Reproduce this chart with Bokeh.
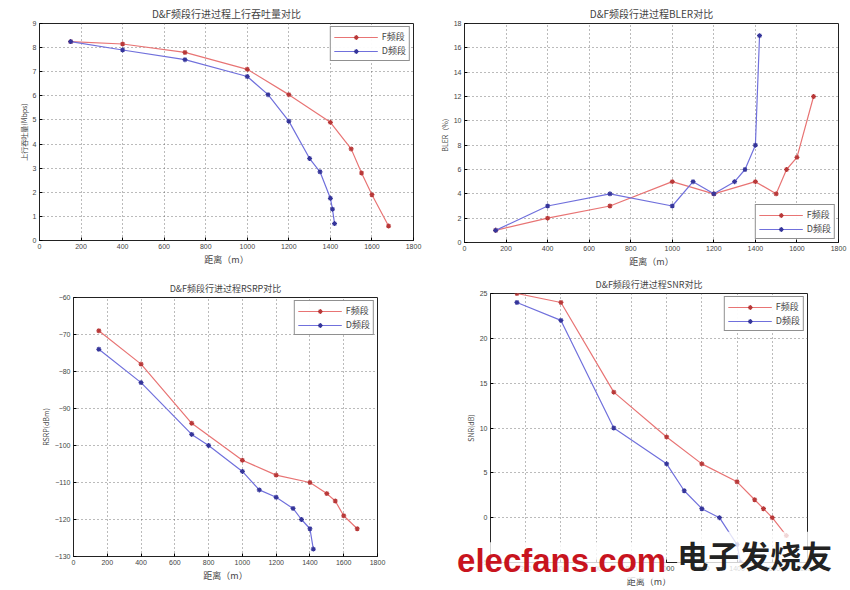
from bokeh.plotting import figure
from bokeh.layouts import column, row
from bokeh.models import Legend, LegendItem, FixedTicker
from bokeh.core.properties import value
from bokeh.embed import file_html
from bokeh.resources import INLINE

# ---------------- data ----------------
tp_f_x = [150, 400, 700, 1000, 1200, 1400, 1500, 1550, 1600, 1680]
tp_f_y = [8.25, 8.15, 7.8, 7.1, 6.05, 4.9, 3.8, 2.8, 1.9, 0.6]
tp_d_x = [150, 400, 700, 1000, 1100, 1200, 1300, 1350, 1400, 1410, 1420]
tp_d_y = [8.25, 7.9, 7.5, 6.8, 6.05, 4.95, 3.4, 2.85, 1.75, 1.3, 0.7]

bler_f_x = [150, 400, 700, 1000, 1200, 1400, 1500, 1550, 1600, 1680]
bler_f_y = [1, 2, 3, 5, 4, 5, 4, 6, 7, 12]
bler_d_x = [150, 400, 700, 1000, 1100, 1200, 1300, 1350, 1400, 1420]
bler_d_y = [1, 3, 4, 3, 5, 4, 5, 6, 8, 17]

rsrp_f_x = [150, 400, 700, 1000, 1200, 1400, 1500, 1550, 1600, 1680]
rsrp_f_y = [-69, -78, -94, -104, -108, -110, -113, -115, -119, -122.5]
rsrp_d_x = [150, 400, 700, 800, 1000, 1100, 1200, 1300, 1350, 1400, 1420]
rsrp_d_y = [-74, -83, -97, -100, -107, -112, -114, -117, -120, -122.5, -128]

snr_f_x = [150, 400, 700, 1000, 1200, 1400, 1500, 1550, 1600, 1680]
snr_f_y = [25, 24, 14, 9, 6, 4, 2, 1, 0, -2]
snr_d_x = [150, 400, 700, 1000, 1100, 1200, 1300, 1400, 1420]
snr_d_y = [24, 22, 10, 6, 3, 1, 0, -3, -5]

x_ticks = [0, 200, 400, 600, 800, 1000, 1200, 1400, 1600, 1800]
series_names = ["F频段", "D频段"]
titles = ["D&F频段行进过程上行吞吐量对比", "D&F频段行进过程BLER对比",
          "D&F频段行进过程RSRP对比", "D&F频段行进过程SNR对比"]
ylabels = ["上行吞吐量(Mbps)", "BLER（%）", "RSRP(dBm)", "SNR(dB)"]
xlabel = "距离（m）"
watermark_latin = "elecfans.com"
watermark_cjk = "电子发烧友"

RED = "#e87474"
RED_M = "#b83838"
BLUE = "#7070dc"
BLUE_M = "#35359a"
FONT = "Noto Sans CJK SC"
TXT = "#444444"


def make(w, h, ylim, yticks, title, ylabel, fx, fy, dx, dy, borders, legend_loc, tsize):
    p = figure(width=w, height=h, x_range=(0, 1800), y_range=ylim,
               output_backend="svg", toolbar_location=None,
               min_border_left=borders[0], min_border_right=borders[1],
               min_border_top=borders[2], min_border_bottom=borders[3])
    p.title.text = title
    p.title.align = "center"
    p.title.text_font = FONT
    p.title.text_font_size = tsize
    p.title.text_font_style = "normal"
    p.title.text_color = TXT
    p.title.standoff = 5
    p.outline_line_color = "#222222"
    p.outline_line_width = 1
    for ax in (p.xaxis, p.yaxis):
        ax.major_label_text_font_size = "7px"
        ax.major_label_text_color = TXT
        ax.major_label_text_font = "Liberation Sans"
        ax.axis_label_text_font = FONT
        ax.axis_label_text_font_style = "normal"
        ax.axis_label_text_color = TXT
        ax.major_tick_in = 3
        ax.major_tick_out = 0
        ax.minor_tick_line_color = None
        ax.axis_line_color = "#222222"
        ax.major_label_standoff = 3
        ax.axis_label_standoff = 1
    p.xaxis.axis_label = xlabel
    p.xaxis.axis_label_text_font_size = "9px"
    p.yaxis.axis_label = ylabel
    p.yaxis.axis_label_text_font_size = "7px"
    p.xaxis.ticker = FixedTicker(ticks=x_ticks)
    p.yaxis.ticker = FixedTicker(ticks=yticks)
    p.grid.grid_line_color = "#555555"
    p.grid.grid_line_dash = "1 3"
    p.grid.grid_line_alpha = 0.8
    p.xgrid.ticker = FixedTicker(ticks=x_ticks)
    p.ygrid.ticker = FixedTicker(ticks=yticks)

    lf = p.line(fx, fy, line_color=RED, line_width=1.2)
    mf = p.scatter(fx, fy, marker="asterisk", size=5, line_color=RED_M, line_width=1.2)
    ld = p.line(dx, dy, line_color=BLUE, line_width=1.2)
    md = p.scatter(dx, dy, marker="asterisk", size=5, line_color=BLUE_M, line_width=1.2)
    leg = Legend(items=[LegendItem(label=series_names[0], renderers=[lf, mf]),
                        LegendItem(label=series_names[1], renderers=[ld, md])],
                 location=legend_loc)
    leg.label_text_font = FONT
    leg.label_text_font_size = "9px"
    leg.label_text_color = TXT
    leg.border_line_color = "#222222"
    leg.glyph_height = 12
    leg.glyph_width = 44
    leg.label_height = 12
    leg.spacing = 1
    leg.padding = 3
    leg.margin = 3
    leg.label_standoff = 4
    p.add_layout(leg)
    return p


p1 = make(425, 270, (0, 9), list(range(0, 10)), titles[0], ylabels[0],
          tp_f_x, tp_f_y, tp_d_x, tp_d_y, (39, 12, 23, 30), "top_right", "10px")
p2 = make(425, 270, (0, 18), list(range(0, 19, 2)), titles[1], ylabels[1],
          bler_f_x, bler_f_y, bler_d_x, bler_d_y, (39, 12, 23, 25), "bottom_right", "10px")
p3 = make(425, 320, (-130, -60), list(range(-130, -59, 10)), titles[2], ylabels[2],
          rsrp_f_x, rsrp_f_y, rsrp_d_x, rsrp_d_y, (73, 48, 27, 34), "top_right", "9px")
p4 = make(425, 320, (-5, 25), list(range(-5, 26, 5)), titles[3], ylabels[3],
          snr_f_x, snr_f_y, snr_d_x, snr_d_y, (65, 43, 23, 28), "top_right", "9px")

# watermark (drawn at overlay level so it is not clipped to the frame)
w1 = p4.text(x=[-190], y=[-4.8], text=[watermark_latin], text_font=value("Liberation Sans"),
             text_font_style="bold", text_font_size="33px", text_color="#c8141e",
             text_baseline="alphabetic", background_fill_color="white",
             background_fill_alpha=0.8)
w2 = p4.text(x=[1060], y=[-6.6], text=[watermark_cjk], text_font=value(FONT),
             text_font_style="bold", text_font_size="31px", text_color="#222222",
             text_baseline="bottom", background_fill_color="white",
             background_fill_alpha=0.8)
w1.level = "overlay"
w2.level = "overlay"

layout = column(row(column(p1), column(p2)), row(column(p3), column(p4)))
open("out.html", "w").write(file_html(layout, INLINE))
